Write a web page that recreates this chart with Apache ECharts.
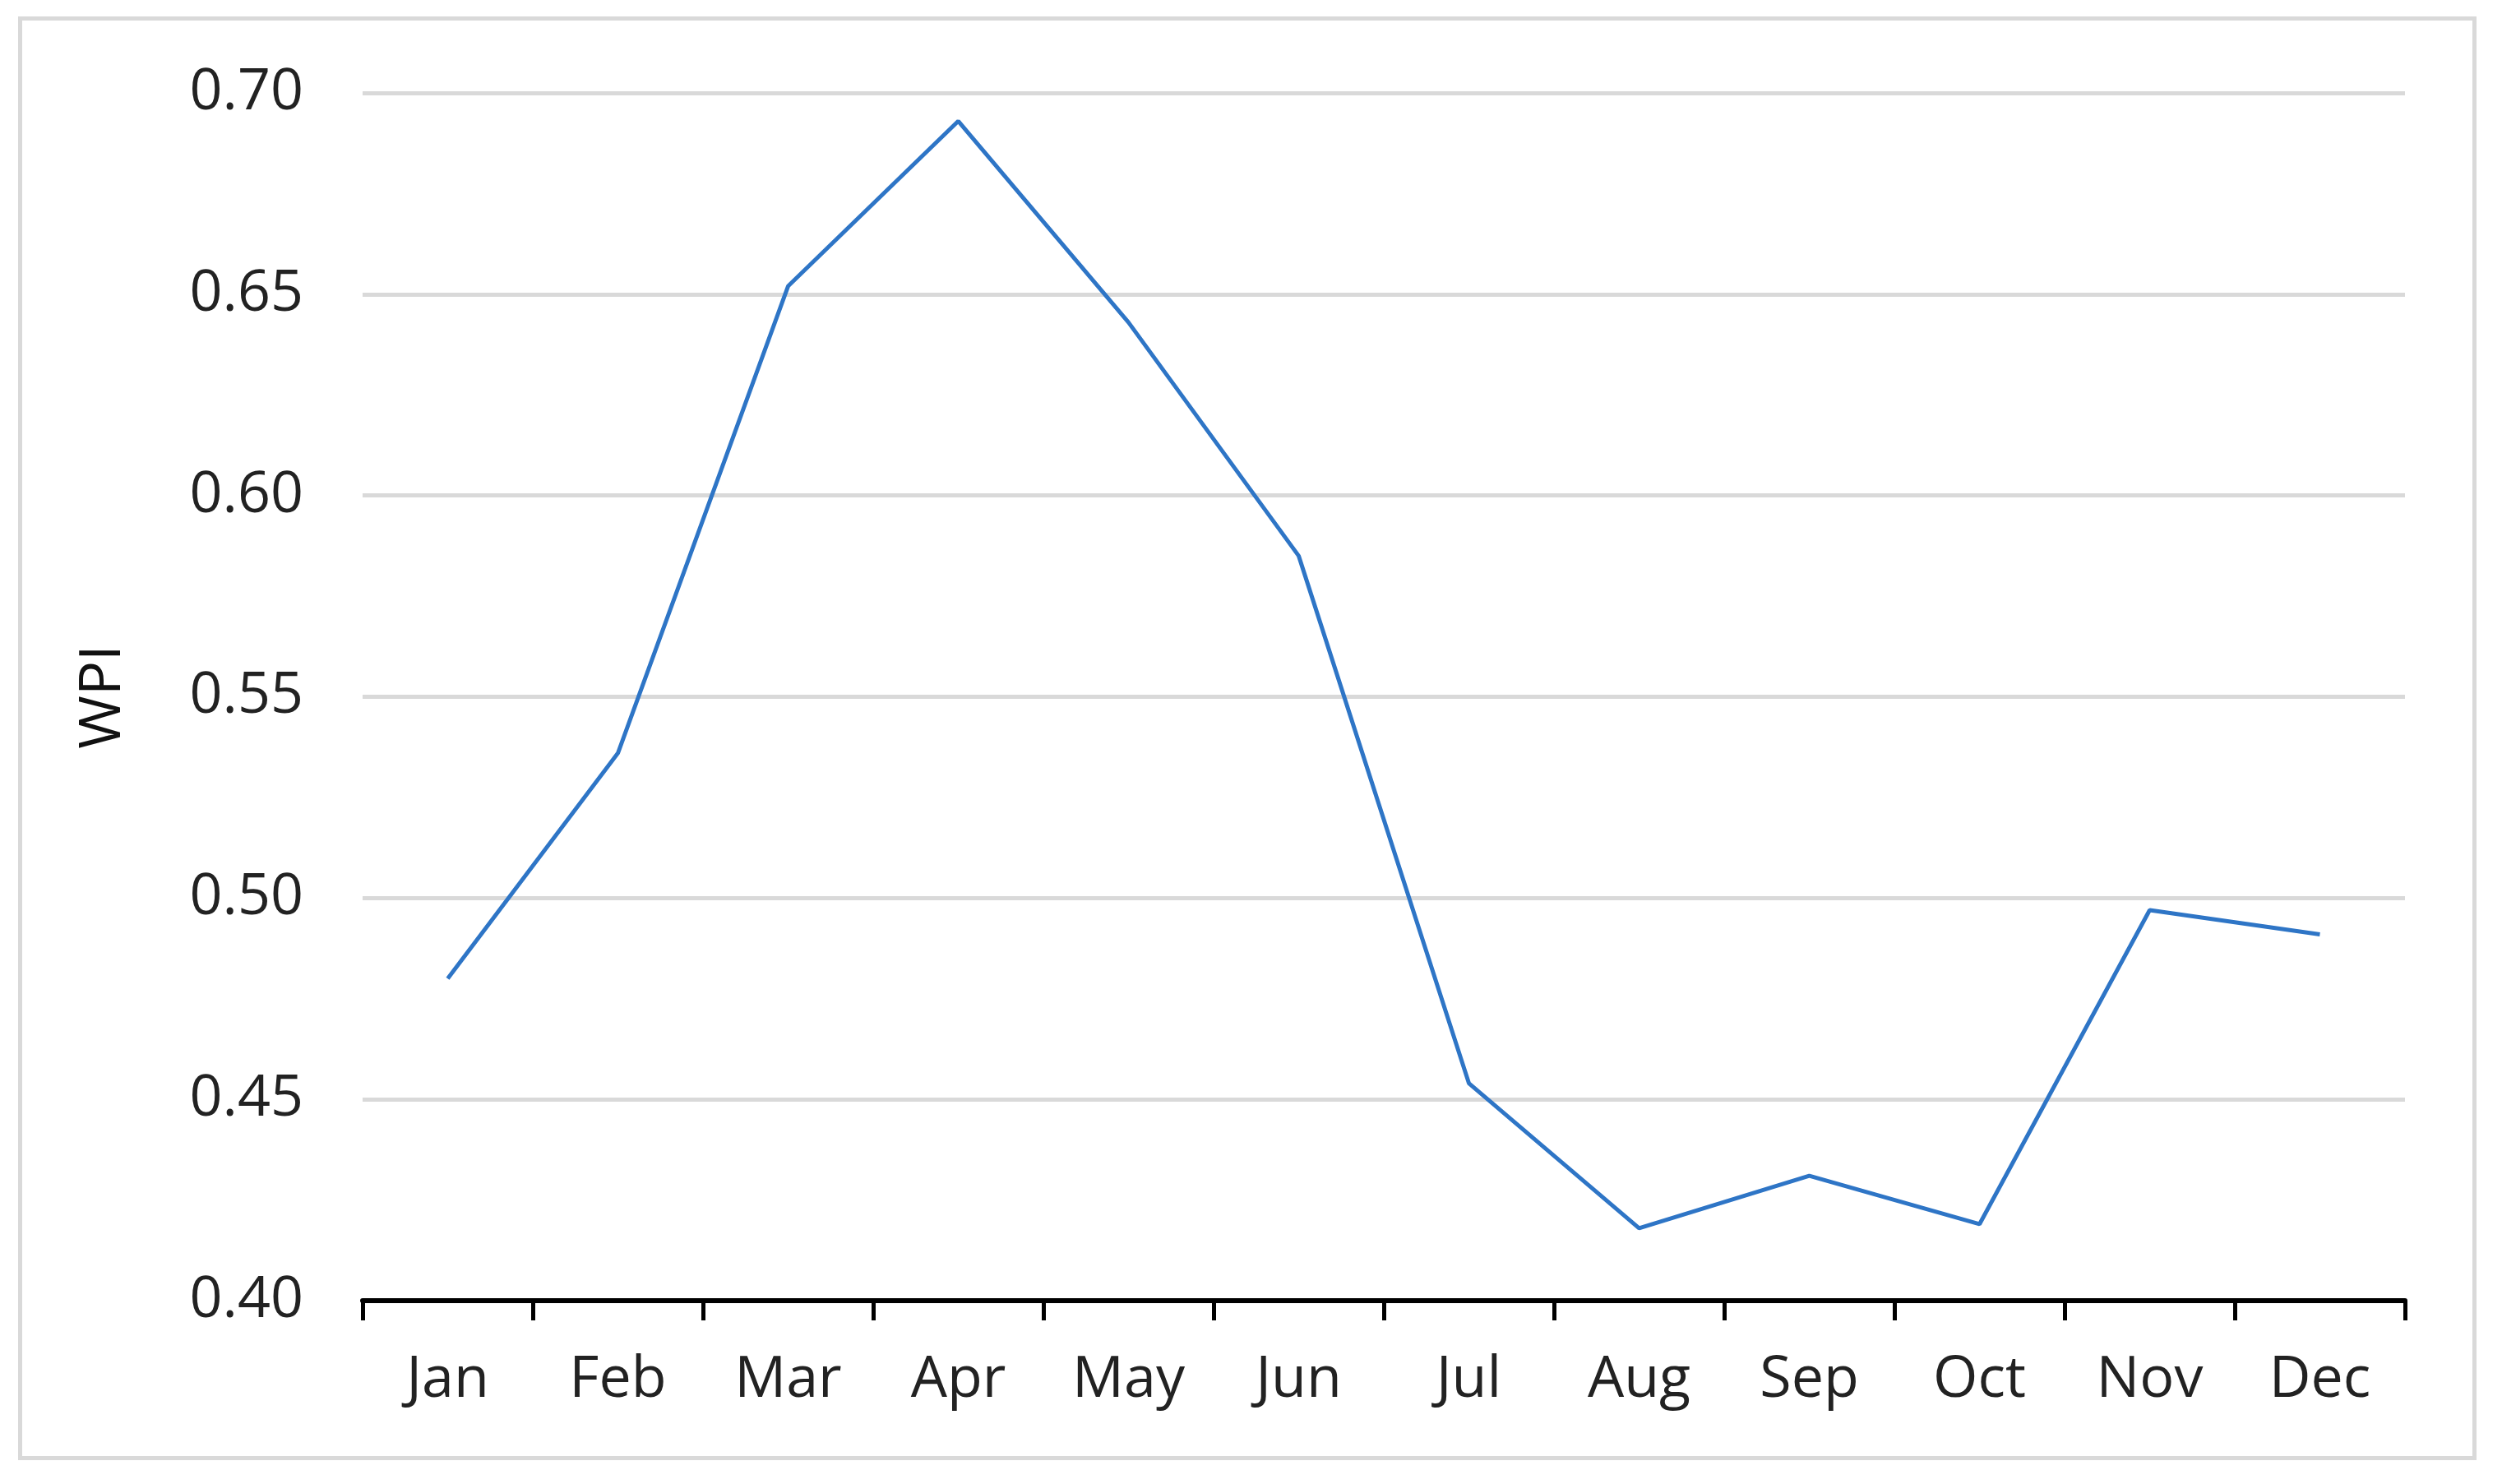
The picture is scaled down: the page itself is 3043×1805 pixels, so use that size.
<!DOCTYPE html>
<html><head><meta charset="utf-8">
<script src="https://cdn.jsdelivr.net/npm/echarts@6/dist/echarts.min.js"></script>
<style>
html,body{margin:0;padding:0;background:#fff}
#frame{position:absolute;left:22px;top:20px;width:2990px;height:1756px;border:5px solid #d9d9d9;box-sizing:border-box}
#chart{position:absolute;left:0;top:0;width:3043px;height:1805px}
</style></head>
<body><div id="frame"></div><div id="chart"></div>
<script>
const months = ['Jan','Feb','Mar','Apr','May','Jun','Jul','Aug','Sep','Oct','Nov','Dec'];
const wpi = [0.480,0.536,0.652,0.693,0.643,0.585,0.454,0.418,0.431,0.419,0.497,0.491];
const yTicks = {min:0.40,max:0.70,interval:0.05};

const chart = echarts.init(document.getElementById('chart'));
chart.setOption({
  animation:false,
  grid:{left:441,right:118,top:113,bottom:223},
  xAxis:{type:'category',data:months,boundaryGap:true,
    axisLine:{lineStyle:{color:'#000',width:6}},
    axisTick:{show:true,length:24,lineStyle:{color:'#000',width:5}},
    axisLabel:{fontFamily:'Open Sans',fontSize:70,color:'#222',margin:62}},
  yAxis:{type:'value',min:yTicks.min,max:yTicks.max,interval:yTicks.interval,
    name:'WPI',nameLocation:'middle',nameGap:280,
    nameTextStyle:{fontFamily:'Open Sans',fontSize:70,color:'#111'},
    axisLine:{show:false},axisTick:{show:false},
    axisLabel:{fontFamily:'Open Sans',fontSize:70,color:'#222',margin:72,formatter:v=>v.toFixed(2)},
    splitLine:{lineStyle:{color:'#d9d9d9',width:5}}},
  series:[{type:'line',data:wpi,showSymbol:false,lineStyle:{color:'#2e75c6',width:5}}]
});
</script></body></html>
